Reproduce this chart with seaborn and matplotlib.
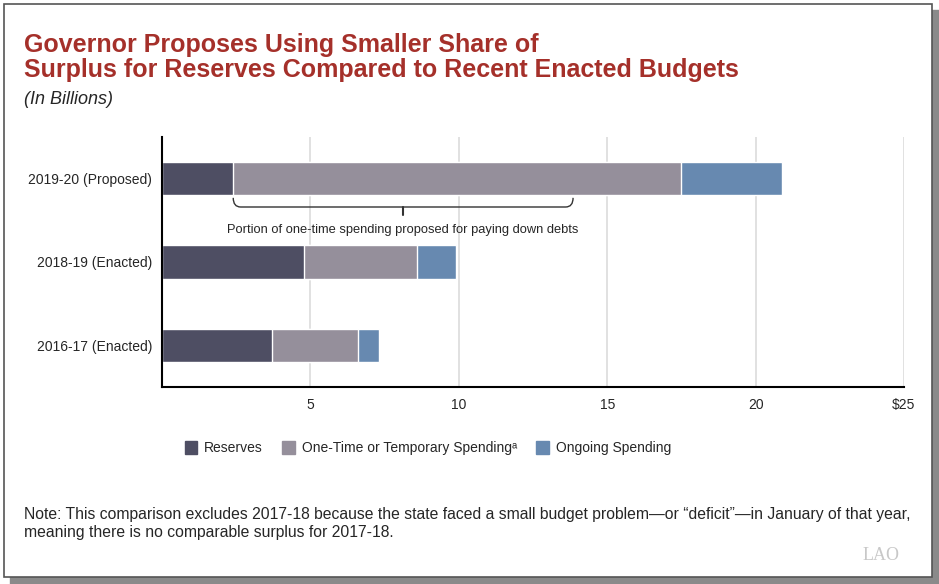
import seaborn as sns
import matplotlib.pyplot as plt
import matplotlib.patches as mpatches
from matplotlib.path import Path
import pandas as pd

# data (billions)
years = ["2019-20 (Proposed)", "2018-19 (Enacted)", "2016-17 (Enacted)"]
reserves = [2.4, 4.8, 3.7]
one_time = [15.1, 3.8, 2.9]
ongoing = [3.4, 1.3, 0.7]
series = ["Reserves", "One-Time or Temporary Spending\u1d43", "Ongoing Spending"]
colors = ["#4e4e63", "#958f9b", "#6789b0"]
xticks = [0, 5, 10, 15, 20, 25]
xticklabels = ["", "5", "10", "15", "20", "\\$25"]
debt_range = [2.4, 13.85]

sns.set_style("white")
plt.rcParams["font.family"] = ["Liberation Sans", "DejaVu Sans"]

df = pd.DataFrame({"year": years, "reserves": reserves,
                   "one_time": one_time, "ongoing": ongoing})
df["c1"] = df["reserves"]
df["c2"] = df["reserves"] + df["one_time"]
df["c3"] = df["c2"] + df["ongoing"]

fig = plt.figure(figsize=(9.39, 5.84), dpi=100)

# frame with shadow
fig.patches.append(mpatches.Rectangle((10 / 939, 0), 1 - 10 / 939, 1 - 10 / 584,
                                      transform=fig.transFigure, color="#8a8a8a", zorder=-3))
fig.patches.append(mpatches.Rectangle((4 / 939, 1 - 577 / 584), 928 / 939, 573 / 584,
                                      transform=fig.transFigure, facecolor="white",
                                      edgecolor="#555555", lw=1.2, zorder=-2))

ax = fig.add_axes([162 / 939, 1 - 387 / 584, 742 / 939, 250 / 584])
ax.set_facecolor("none")

for col, c in zip(["c3", "c2", "c1"], colors[::-1]):
    sns.barplot(data=df, x=col, y="year", orient="h", color=c, width=0.4,
                edgecolor="white", linewidth=1, ax=ax, saturation=1)

ax.set_xlim(0, 25)
ax.set_ylim(2.5, -0.5)
ax.set_xticks(xticks)
ax.set_xticklabels(xticklabels, fontsize=10, va="baseline")
ax.set_xlabel("")
ax.set_ylabel("")
ax.tick_params(axis="y", length=0, labelsize=10, pad=7)
ax.set_yticks([0.5, 1.5], minor=True)
ax.tick_params(axis="y", which="minor", length=5, width=1.5, color="black")
ax.tick_params(axis="x", length=5, width=1.5, color="black", pad=11)
ax.grid(axis="x", color="#dcdcdc", lw=1.2, zorder=0)
ax.set_axisbelow(True)
for s in ["top", "right"]:
    ax.spines[s].set_visible(False)
for s in ["left", "bottom"]:
    ax.spines[s].set_color("black")
    ax.spines[s].set_linewidth(1.5)

# bracket for debt payments
x0, x1 = debt_range
yt, yb, r = 0.23, 0.34, 0.25
xm = (x0 + x1) / 2
verts = [(x0, yt), (x0, yb), (x0 + r, yb), (x1 - r, yb), (x1, yb), (x1, yt)]
codes = [Path.MOVETO, Path.CURVE3, Path.CURVE3, Path.LINETO, Path.CURVE3, Path.CURVE3]
ax.add_patch(mpatches.PathPatch(Path(verts, codes), fill=False, lw=1, color="#333333"))
ax.plot([xm, xm], [yb, 0.44], color="#333333", lw=1.5)
ax.text(xm, 0.61, "Portion of one-time spending proposed for paying down debts",
        ha="center", va="center", fontsize=9.3)

# legend
handles = [mpatches.Patch(color=c, label=s) for c, s in zip(colors, series)]
fig.legend(handles=handles, loc="center left", bbox_to_anchor=(172 / 939, 1 - 448 / 584),
           ncol=3, frameon=False, fontsize=10, handlelength=0.9, handleheight=1.1,
           handletextpad=0.5, columnspacing=1.4)

# titles
fig.text(24 / 939, 1 - 45 / 584, "Governor Proposes Using Smaller Share of",
         fontsize=18, fontweight="bold", color="#a5302a", va="center")
fig.text(24 / 939, 1 - 70 / 584, "Surplus for Reserves Compared to Recent Enacted Budgets",
         fontsize=18, fontweight="bold", color="#a5302a", va="center")
fig.text(24 / 939, 1 - 100 / 584, "(In Billions)", fontsize=13, style="italic", va="center")

fig.text(24 / 939, 1 - 515 / 584,
         "Note: This comparison excludes 2017-18 because the state faced a small budget problem\u2014or \u201cdeficit\u201d\u2014in January of that year,",
         fontsize=11.3, va="center")
fig.text(24 / 939, 1 - 533 / 584, "meaning there is no comparable surplus for 2017-18.",
         fontsize=11.3, va="center")
fig.text(900 / 939, 1 - 556 / 584, "LAO", family=["Liberation Serif", "DejaVu Serif"],
         fontsize=13, color="#c8c8c8", ha="right", va="center")

fig.savefig("out.png", dpi=100)
